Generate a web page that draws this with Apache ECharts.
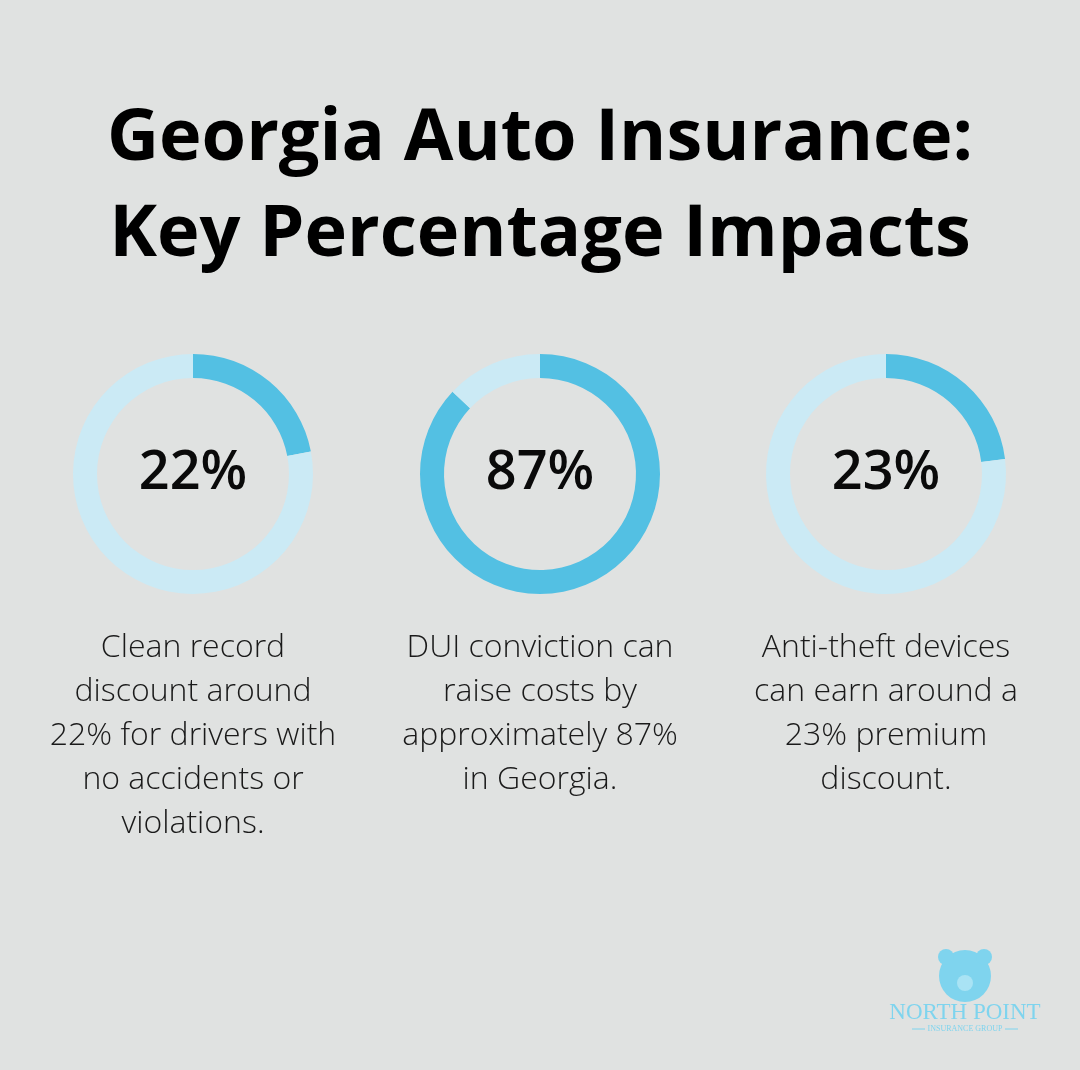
<!DOCTYPE html>
<html>
<head>
<meta charset="utf-8">
<script src="https://cdn.jsdelivr.net/npm/echarts@6/dist/echarts.min.js"></script>
<style>
  html, body { margin: 0; padding: 0; background: #e0e2e1; }
  #main { width: 1080px; height: 1070px; }
</style>
</head>
<body>
<div id="main"></div>
<script>
var myChart = echarts.init(document.getElementById('main'));

// data
var titleLines = ['Georgia Auto Insurance:', 'Key Percentage Impacts'];
var percents = [22, 87, 23];
var descriptions = [
    'Clean record\ndiscount around\n22% for drivers with\nno accidents or\nviolations.',
    'DUI conviction can\nraise costs by\napproximately 87%\nin Georgia.',
    'Anti-theft devices\ncan earn around a\n23% premium\ndiscount.'
];
var centersX = [193, 540, 886];

var darkBlue = '#53c0e3';
var lightBlue = '#cbeaf5';
var font = '"Open Sans", "Noto Sans", sans-serif';

var series = percents.map(function (v, i) {
    return {
        type: 'pie',
        center: [centersX[i], 474],
        radius: [96, 120],
        startAngle: 90,
        clockwise: true,
        silent: true,
        animation: false,
        label: { show: false },
        labelLine: { show: false },
        data: [
            {
                value: v,
                itemStyle: { color: darkBlue },
                label: {
                    show: true,
                    position: 'center',
                    formatter: v + '%',
                    fontFamily: font,
                    fontSize: 54,
                    fontWeight: 600,
                    color: '#0a0a0a'
                }
            },
            { value: 100 - v, itemStyle: { color: lightBlue } }
        ]
    };
});

var graphics = [];
titleLines.forEach(function (t, i) {
    graphics.push({
        type: 'text',
        x: 540,
        y: 139 + i * 96,
        style: {
            text: t,
            fontFamily: font,
            fontSize: 72,
            fontWeight: 'bold',
            fill: '#000',
            textAlign: 'center',
            textVerticalAlign: 'middle'
        }
    });
});
descriptions.forEach(function (d, i) {
    graphics.push({
        type: 'text',
        x: centersX[i],
        y: 626,
        style: {
            text: d,
            fontFamily: font,
            fontSize: 32,
            fontWeight: 300,
            lineHeight: 44,
            fill: '#1a1a1a',
            textAlign: 'center',
            textVerticalAlign: 'top'
        }
    });
});

// logo
var logoColor = '#7fd4ee';
graphics.push({
    type: 'group',
    children: [
        { type: 'circle', shape: { cx: 965, cy: 976, r: 26 }, style: { fill: logoColor } },
        { type: 'circle', shape: { cx: 946, cy: 957, r: 8 }, style: { fill: logoColor } },
        { type: 'circle', shape: { cx: 984, cy: 957, r: 8 }, style: { fill: logoColor } },
        { type: 'circle', shape: { cx: 965, cy: 983, r: 8 }, style: { fill: '#a9e3f4' } },
        { type: 'text', x: 965, y: 1013, style: { text: 'NORTH POINT', fontFamily: '"Liberation Serif", serif', fontSize: 23, fill: logoColor, textAlign: 'center', textVerticalAlign: 'middle' } },
        { type: 'text', x: 965, y: 1029, style: { text: 'INSURANCE GROUP', fontFamily: '"Liberation Serif", serif', fontSize: 8, fill: logoColor, textAlign: 'center', textVerticalAlign: 'middle' } },
        { type: 'line', shape: { x1: 912, y1: 1029, x2: 925, y2: 1029 }, style: { stroke: logoColor, lineWidth: 1 } },
        { type: 'line', shape: { x1: 1005, y1: 1029, x2: 1018, y2: 1029 }, style: { stroke: logoColor, lineWidth: 1 } }
    ]
});

var option = {
    backgroundColor: '#e0e2e1',
    animation: false,
    series: series,
    graphic: graphics
};
myChart.setOption(option);
</script>
</body>
</html>
